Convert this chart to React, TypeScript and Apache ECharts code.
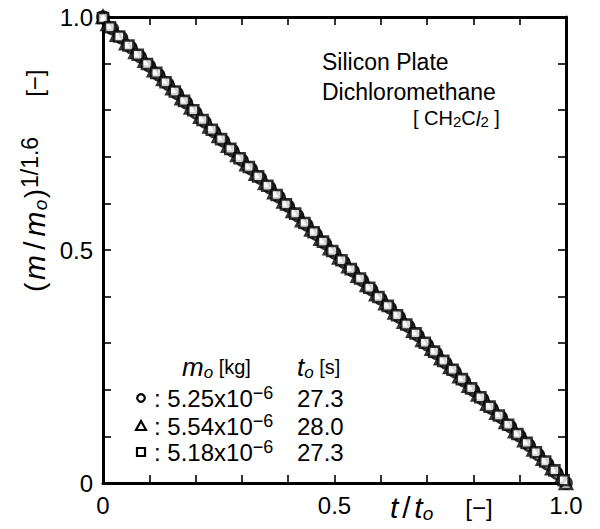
import React, { useEffect, useRef } from "react";
import * as echarts from "echarts";

// ---- data ----
const circleT = [0.00, 0.02, 0.04, 0.06, 0.08, 0.10, 0.12, 0.14, 0.16, 0.18, 0.20, 0.22, 0.24, 0.26, 0.28, 0.30, 0.32, 0.34, 0.36, 0.38, 0.40, 0.42, 0.44, 0.46, 0.48, 0.50, 0.52, 0.54, 0.56, 0.58, 0.60, 0.62, 0.64, 0.66, 0.68, 0.70, 0.72, 0.74, 0.76, 0.78, 0.80, 0.82, 0.84, 0.86, 0.88, 0.90, 0.92, 0.94, 0.96, 0.98, 1.00];
const circleV = [1.000, 0.975, 0.955, 0.935, 0.915, 0.895, 0.876, 0.856, 0.836, 0.816, 0.795, 0.775, 0.754, 0.734, 0.713, 0.693, 0.674, 0.654, 0.634, 0.614, 0.594, 0.574, 0.554, 0.534, 0.514, 0.494, 0.474, 0.455, 0.435, 0.415, 0.395, 0.376, 0.356, 0.336, 0.317, 0.297, 0.278, 0.258, 0.239, 0.219, 0.199, 0.180, 0.160, 0.141, 0.121, 0.101, 0.081, 0.061, 0.041, 0.021, 0.000];

const triangleT = [0.00, 0.01, 0.03, 0.05, 0.07, 0.09, 0.11, 0.13, 0.15, 0.17, 0.19, 0.21, 0.23, 0.25, 0.27, 0.29, 0.31, 0.33, 0.35, 0.37, 0.39, 0.41, 0.43, 0.45, 0.47, 0.49, 0.51, 0.53, 0.55, 0.57, 0.59, 0.61, 0.63, 0.65, 0.67, 0.69, 0.71, 0.73, 0.75, 0.77, 0.79, 0.81, 0.83, 0.85, 0.87, 0.89, 0.91, 0.93, 0.95, 0.97, 0.99, 1.00];
const triangleV = [1.000, 0.985, 0.962, 0.944, 0.925, 0.906, 0.886, 0.867, 0.847, 0.826, 0.806, 0.786, 0.765, 0.745, 0.724, 0.704, 0.684, 0.664, 0.644, 0.624, 0.604, 0.584, 0.564, 0.544, 0.524, 0.504, 0.484, 0.465, 0.445, 0.425, 0.405, 0.386, 0.366, 0.346, 0.327, 0.307, 0.288, 0.268, 0.249, 0.229, 0.209, 0.190, 0.170, 0.151, 0.131, 0.111, 0.092, 0.072, 0.052, 0.032, 0.012, 0.000];

const squareT = [0.000, 0.015, 0.035, 0.055, 0.075, 0.095, 0.115, 0.135, 0.155, 0.175, 0.195, 0.215, 0.235, 0.255, 0.275, 0.295, 0.315, 0.335, 0.355, 0.375, 0.395, 0.415, 0.435, 0.455, 0.475, 0.495, 0.515, 0.535, 0.555, 0.575, 0.595, 0.615, 0.635, 0.655, 0.675, 0.695, 0.715, 0.735, 0.755, 0.775, 0.795, 0.815, 0.835, 0.855, 0.875, 0.895, 0.915, 0.935, 0.955, 0.975, 0.995];
const squareV = [0.998, 0.978, 0.958, 0.939, 0.919, 0.899, 0.880, 0.860, 0.840, 0.820, 0.800, 0.779, 0.758, 0.738, 0.717, 0.697, 0.678, 0.658, 0.638, 0.618, 0.598, 0.578, 0.558, 0.538, 0.518, 0.498, 0.478, 0.459, 0.439, 0.419, 0.399, 0.380, 0.360, 0.340, 0.321, 0.301, 0.282, 0.262, 0.243, 0.223, 0.203, 0.184, 0.164, 0.145, 0.125, 0.105, 0.086, 0.066, 0.046, 0.027, 0.006];

const xTickValues = [0, 0.5, 1];
const xTickLabels = ["0", "0.5", "1.0"];
const yTickValues = [0, 0.5, 1];
const yTickLabels = ["0", "0.5", "1.0"];

const annotationLines = ["Silicon Plate", "Dichloromethane"];
const legendMasses = ["5.25x10", "5.54x10", "5.18x10"];
const legendExponent = "−6";
const legendTimes = ["27.3", "28.0", "27.3"];

const FONT = '"Liberation Sans", Arial, sans-serif';

const zip = (xs: number[], ys: number[]) => xs.map((x, i) => [x, ys[i]]);

const pickLabel = (values: number[], labels: string[]) => (v: number) => {
  const i = values.findIndex((t) => Math.abs(t - v) < 1e-6);
  return i >= 0 ? labels[i] : "";
};

const base = { fontFamily: FONT, fill: "#000", color: "#000" };
const rich: any = {
  n: { ...base, fontSize: 24, lineHeight: 28 },
  s: { ...base, fontSize: 20, lineHeight: 28 },
  i: { ...base, fontSize: 26, fontStyle: "italic", lineHeight: 28 },
  sub: { ...base, fontSize: 17, fontStyle: "italic", lineHeight: 15, verticalAlign: "bottom" },
  sup: { ...base, fontSize: 18, lineHeight: 11, verticalAlign: "top" },
  // chemical formula
  f: { ...base, fontSize: 20, lineHeight: 22 },
  fi: { ...base, fontSize: 21, fontStyle: "italic", lineHeight: 22 },
  fsub: { ...base, fontSize: 15, lineHeight: 12, verticalAlign: "bottom" },
  // y title
  ya: { ...base, fontSize: 28, width: 12, lineHeight: 32 },
  ym: { ...base, fontSize: 30, fontStyle: "italic", width: 26, lineHeight: 32 },
  ys: { ...base, fontSize: 30, width: 17, align: "center", lineHeight: 32 },
  yo: { ...base, fontSize: 19, fontStyle: "italic", width: 12, lineHeight: 16, verticalAlign: "bottom" },
  yc: { ...base, fontSize: 28, width: 11, lineHeight: 32 },
  ysup: { ...base, fontSize: 23, lineHeight: 12, verticalAlign: "top" },
  yg: { ...base, fontSize: 20, width: 40, lineHeight: 32 },
  yb: { ...base, fontSize: 24, lineHeight: 32 },
  // x title
  xt: { ...base, fontSize: 30, fontStyle: "italic", lineHeight: 32 },
  xs: { ...base, fontSize: 30, width: 16, align: "center", lineHeight: 32 },
  xo: { ...base, fontSize: 19, fontStyle: "italic", lineHeight: 16, verticalAlign: "bottom" },
  xg: { ...base, fontSize: 20, width: 32, lineHeight: 32 },
  xb: { ...base, fontSize: 24, lineHeight: 32 },
};

const textEl = (x: number, y: number, text: string, extra: any = {}) => ({
  type: "text",
  x,
  y,
  silent: true,
  ...extra,
  style: {
    text,
    rich,
    fill: "#000",
    font: `24px ${FONT}`,
    align: "left",
    textAlign: "left",
    verticalAlign: "middle",
    textVerticalAlign: "middle",
  },
});

const plainText = (x: number, y: number, text: string, size: number) => ({
  type: "text",
  x,
  y,
  silent: true,
  style: {
    text,
    fill: "#000",
    font: `${size}px ${FONT}`,
    align: "left",
    textAlign: "left",
    verticalAlign: "middle",
    textVerticalAlign: "middle",
  },
});

const axisBase = (position: string, showLabel: boolean, values: number[], labels: string[]) => ({
  type: "value",
  min: 0,
  max: 1,
  interval: 0.1,
  position,
  axisLine: { show: true, onZero: false, lineStyle: { color: "#000", width: 3 } },
  axisTick: { show: true, inside: true, length: 8, lineStyle: { color: "#000", width: 1.6 } },
  splitLine: { show: false },
  axisLabel: {
    show: showLabel,
    inside: false,
    margin: 10,
    color: "#000",
    fontSize: 24,
    fontFamily: FONT,
    showMinLabel: true,
    showMaxLabel: true,
    formatter: pickLabel(values, labels),
  },
});

export default function App() {
  const ref = useRef<HTMLDivElement>(null);

  useEffect(() => {
    document.body.style.margin = "0";
    if (!ref.current) return;
    const chart = echarts.init(ref.current, undefined, { renderer: "svg" });

    const markerStyle = { color: "#fff", borderColor: "#000", borderWidth: 2.6 };

    const legendRowsY = [398, 426, 452];

    const graphics: any[] = [
      // y-axis title (rotated)
      textEl(34, 292, "{ya|(}{ym|m}{ys|/}{ym|m}{yo|o}{yc|)}{ysup|1/1.6}{yg| }{yb|[−]}", { rotation: Math.PI / 2 }),
      // x-axis title
      textEl(390, 507, "{xt|t}{xs|/}{xt|t}{xo|o}{xg| }{xb|[−]}"),
      // annotation
      plainText(322, 62, annotationLines[0], 23),
      plainText(322, 92, annotationLines[1], 23),
      textEl(413, 118, "{f|[ CH}{fsub|2}{f|C}{fi|l}{fsub|2}{f| ]}"),
      // legend header
      textEl(182, 367, "{i|m}{sub|o}{s| [kg]}"),
      textEl(297, 367, "{i|t}{sub|o}{s| [s]}"),
      // legend markers
      { type: "circle", shape: { cx: 141, cy: legendRowsY[0], r: 3.8 }, style: { fill: "#fff", stroke: "#000", lineWidth: 2.2 } },
      { type: "polygon", shape: { points: [[141, legendRowsY[1] - 5], [136, legendRowsY[1] + 4], [146, legendRowsY[1] + 4]] }, style: { fill: "#fff", stroke: "#000", lineWidth: 2.2 } },
      { type: "rect", shape: { x: 137, y: legendRowsY[2] - 4, width: 8, height: 8 }, style: { fill: "#fff", stroke: "#000", lineWidth: 2.2 } },
    ];

    legendMasses.forEach((m, k) => {
      graphics.push(textEl(154, legendRowsY[k], `{n|: ${m}}{sup|${legendExponent}}`));
      graphics.push(plainText(297, legendRowsY[k], legendTimes[k], 24));
    });

    chart.setOption({
      animation: false,
      backgroundColor: "#fff",
      grid: { left: 103, top: 17, width: 463, height: 466, containLabel: false },
      xAxis: [
        axisBase("bottom", true, xTickValues, xTickLabels),
        axisBase("top", false, xTickValues, xTickLabels),
      ],
      yAxis: [
        axisBase("left", true, yTickValues, yTickLabels),
        axisBase("right", false, yTickValues, yTickLabels),
      ],
      series: [
        {
          type: "scatter",
          name: "circle",
          symbol: "circle",
          symbolSize: 11,
          clip: false,
          itemStyle: markerStyle,
          data: zip(circleT, circleV),
        },
        {
          type: "scatter",
          name: "triangle",
          symbol: "triangle",
          symbolSize: 12,
          clip: false,
          itemStyle: markerStyle,
          data: zip(triangleT, triangleV),
        },
        {
          type: "scatter",
          name: "square",
          symbol: "rect",
          symbolSize: 10,
          clip: false,
          itemStyle: markerStyle,
          data: zip(squareT, squareV),
        },
      ],
      graphic: graphics,
    });

    return () => chart.dispose();
  }, []);

  return <div ref={ref} style={{ width: 600, height: 529 }} />;
}
